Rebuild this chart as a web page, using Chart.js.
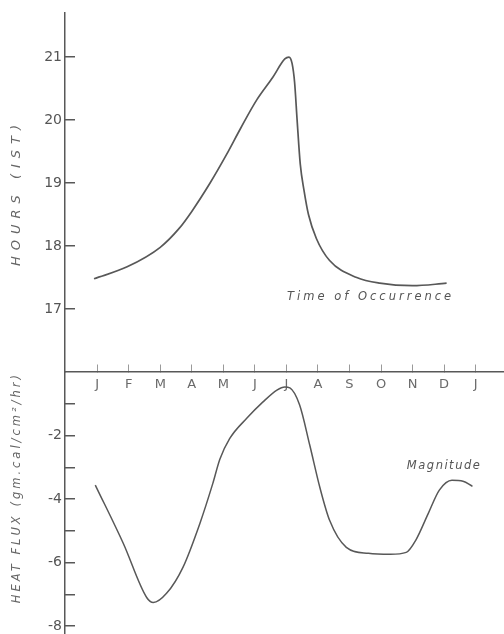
<!DOCTYPE html>
<html lang="en">
<head>
<meta charset="UTF-8">
<title>Heat flux</title>
<script src="https://cdn.jsdelivr.net/npm/chart.js"></script>
<style>
  html, body { margin: 0; padding: 0; background: #fff; }
  #wrap { width: 504px; height: 634px; }
</style>
</head>
<body>
<div id="wrap"><canvas id="fluxChart"></canvas></div>
<script>
// month letters, J of one year to J of the next (x = 0..12)
const monthLabels = ['J', 'F', 'M', 'A', 'M', 'J', 'J', 'A', 'S', 'O', 'N', 'D', 'J'];

// upper curve: time of occurrence (hours IST)
const timeMonths = [-0.1, 0.95, 2.0, 2.6, 3.0, 3.58, 4.1, 4.55, 5.06, 5.57, 5.95, 6.08, 6.18, 6.26, 6.34, 6.44, 6.56, 6.7, 6.95, 7.37, 8.23, 8.96, 10.0, 11.08];
const timeHours  = [17.48, 17.67, 17.98, 18.28, 18.55, 19.0, 19.45, 19.87, 20.32, 20.68, 20.97, 21.0, 20.9, 20.6, 20.0, 19.3, 18.88, 18.5, 18.12, 17.77, 17.5, 17.41, 17.37, 17.41];

// lower curve: magnitude of heat flux
const fluxMonths = [-0.06, 0.83, 1.57, 1.78, 2.2, 2.72, 3.26, 3.67, 3.89, 4.2, 4.75, 5.25, 5.7, 5.95, 6.11, 6.42, 6.74, 7.06, 7.37, 7.9, 8.6, 9.3, 9.8, 10.1, 10.5, 10.85, 11.25, 11.6, 11.9];
const fluxValues = [-3.56, -5.4, -7.1, -7.26, -6.97, -6.15, -4.76, -3.5, -2.75, -2.1, -1.45, -0.95, -0.57, -0.47, -0.5, -1.04, -2.3, -3.63, -4.67, -5.52, -5.71, -5.74, -5.68, -5.3, -4.45, -3.72, -3.41, -3.44, -3.6];

const hourTicks = [17, 18, 19, 20, 21];
const fluxTicks = [-1, -2, -3, -4, -5, -6, -7, -8];

const ink = '#585858';
const textInk = '#555';

function toPoints(xs, ys) {
  return xs.map((x, i) => ({ x: x, y: ys[i] }));
}

// curve names written next to the lines, in data units
const notes = [
  { text: 'Time of Occurrence', x: 8.67, y: 17.19, axis: 'yTime', spacing: '3px' },
  { text: 'Magnitude', x: 11.0, y: -2.97, axis: 'yFlux', spacing: '1.5px' }
];

const notePlugin = {
  id: 'notes',
  afterDatasetsDraw(chart) {
    const ctx = chart.ctx;
    ctx.save();
    ctx.font = 'italic 11.5px "DejaVu Sans"';
    ctx.fillStyle = textInk;
    ctx.textAlign = 'center';
    ctx.textBaseline = 'middle';
    notes.forEach(n => {
      ctx.letterSpacing = n.spacing;
      ctx.fillText(n.text, chart.scales.x.getPixelForValue(n.x), chart.scales[n.axis].getPixelForValue(n.y));
    });
    ctx.restore();
  }
};

// wider letter spacing for the hand lettered axis titles
const titleSpacing = { yTime: '6px', yFlux: '3px' };
const spacingPlugin = {
  id: 'titleSpacing',
  beforeDraw(chart) {
    Object.keys(titleSpacing).forEach(id => {
      const scale = chart.scales[id];
      if (!scale || scale._spaced) return;
      const orig = scale.drawTitle;
      scale.drawTitle = function () {
        this.ctx.save();
        this.ctx.letterSpacing = titleSpacing[id];
        orig.call(this);
        this.ctx.restore();
      };
      scale._spaced = true;
    });
  }
};

function noPadding(scale) {
  scale.paddingTop = 0;
  scale.paddingBottom = 0;
  scale.paddingLeft = 0;
  scale.paddingRight = 0;
}

const ctx = document.getElementById('fluxChart').getContext('2d');
const fluxChart = new Chart(ctx, {
  type: 'line',
  data: {
    datasets: [
      {
        label: 'Time of Occurrence',
        data: toPoints(timeMonths, timeHours),
        yAxisID: 'yTime',
        borderColor: ink,
        borderWidth: 1.7,
        pointRadius: 0,
        cubicInterpolationMode: 'monotone'
      },
      {
        label: 'Magnitude',
        data: toPoints(fluxMonths, fluxValues),
        yAxisID: 'yFlux',
        borderColor: ink,
        borderWidth: 1.5,
        pointRadius: 0,
        cubicInterpolationMode: 'monotone'
      }
    ]
  },
  options: {
    responsive: true,
    maintainAspectRatio: false,
    animation: false,
    layout: { padding: { top: 13, right: 0, bottom: 0, left: 0 } },
    plugins: {
      legend: { display: false },
      tooltip: { enabled: false }
    },
    scales: {
      x: {
        type: 'linear',
        min: -1.02,
        max: 12.9,
        position: { yFlux: 0 },
        afterBuildTicks: scale => { scale.ticks = monthLabels.map((m, i) => ({ value: i })); },
        afterFit: noPadding,
        ticks: {
          callback: v => monthLabels[v],
          color: '#6a6a6a',
          font: { family: 'DejaVu Sans', size: 13 },
          padding: 13,
          maxRotation: 0,
          autoSkip: false
        },
        grid: { drawOnChartArea: false, tickLength: -8, color: '#9a9a9a', lineWidth: 1 },
        border: { color: ink, width: 1.5 }
      },
      yTime: {
        type: 'linear',
        position: 'left',
        stack: 'panels',
        stackWeight: 359,
        weight: 1,
        min: 16,
        max: 21.7,
        afterBuildTicks: scale => { scale.ticks = hourTicks.map(v => ({ value: v })); },
        afterFit: scale => { scale.width = 65; noPadding(scale); },
        ticks: {
          color: textInk,
          font: { family: 'DejaVu Sans', size: 14 },
          padding: 13,
          autoSkip: false
        },
        grid: { drawOnChartArea: false, tickLength: -10, color: ink, lineWidth: 1.5 },
        border: { color: ink, width: 1.5 },
        title: {
          display: true,
          text: 'HOURS (IST)',
          color: '#666',
          font: { family: 'DejaVu Sans', size: 13, style: 'italic' },
          padding: { top: 9, bottom: 0 }
        }
      },
      yFlux: {
        type: 'linear',
        position: 'left',
        stack: 'panels',
        stackWeight: 262,
        weight: 0,
        min: -8.25,
        max: 0,
        afterBuildTicks: scale => { scale.ticks = fluxTicks.map(v => ({ value: v })); },
        afterFit: scale => { scale.width = 65; noPadding(scale); },
        ticks: {
          callback: v => (v % 2 === 0 ? String(v) : ''),
          color: textInk,
          font: { family: 'DejaVu Sans', size: 14 },
          padding: 13,
          autoSkip: false
        },
        grid: { drawOnChartArea: false, tickLength: -10, color: ink, lineWidth: 1.5 },
        border: { color: ink, width: 1.5 },
        title: {
          display: true,
          text: 'HEAT FLUX (gm.cal/cm²/hr)',
          align: 'end',
          color: '#666',
          font: { family: 'DejaVu Sans', size: 11.5, style: 'italic' },
          padding: { top: 10, bottom: 0 }
        }
      }
    }
  },
  plugins: [notePlugin, spacingPlugin]
});
</script>
</body>
</html>
